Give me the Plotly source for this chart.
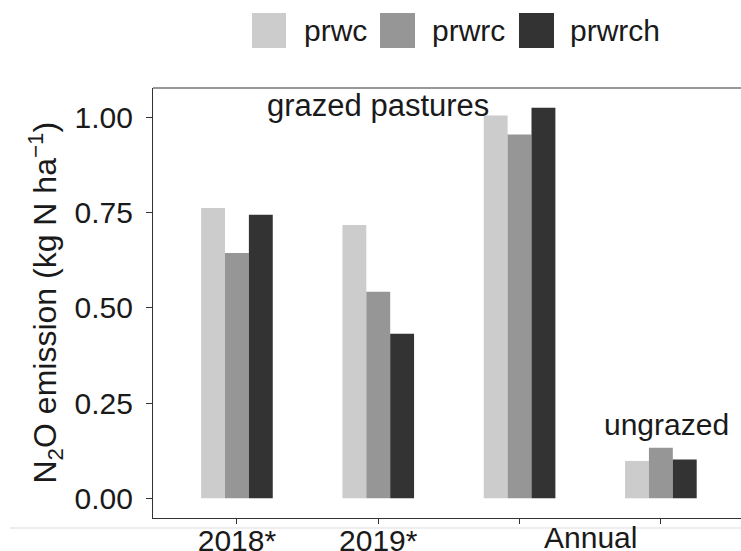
import plotly.graph_objects as go

# ---- data ----
groups = ["2018*", "2019*", "Annual grazed", "Annual ungrazed"]
tick_labels = ["2018*", "2019*", "", ""]
series_names = ["prwc", "prwrc", "prwrch"]
prwc = [0.762, 0.717, 1.005, 0.098]
prwrc = [0.644, 0.542, 0.955, 0.133]
prwrch = [0.744, 0.432, 1.025, 0.102]
colors = ["#cccccc", "#969696", "#333333"]

W, H = 760, 551
ML, MR, MT, MB = 153, 19, 88, 33
PW, PH = W - ML - MR, H - MT - MB


def px(x):
    return (x - ML) / PW


def py(y):
    return (H - MB - y) / PH


FONT = "Liberation Sans, Arial, sans-serif"

fig = go.Figure()
for name, vals, col in zip(series_names, [prwc, prwrc, prwrch], colors):
    fig.add_trace(go.Bar(x=groups, y=vals, name=name, marker_color=col,
                         marker_line_width=0, showlegend=False))

fig.update_layout(
    width=W, height=H, autosize=False,
    margin=dict(l=ML, r=MR, t=MT, b=MB, pad=0, autoexpand=False),
    paper_bgcolor="white", plot_bgcolor="white",
    barmode="group", bargap=0.493, bargroupgap=0,
    font=dict(family=FONT, size=30, color="#1a1a1a"),
    xaxis=dict(type="category", range=[-0.594, 3.567], tickmode="array",
               tickvals=groups, ticktext=tick_labels, automargin=False,
               showline=True, linecolor="#333333", linewidth=1.2, mirror=False,
               ticks="outside", ticklen=5, tickcolor="#333333", tickwidth=1.2,
               ticklabelstandoff=-9,
               showgrid=False, zeroline=False,
               tickfont=dict(family=FONT, size=30, color="#1a1a1a")),
    yaxis=dict(range=[-0.0517, 1.0769], tickvals=[0, 0.25, 0.5, 0.75, 1.0],
               ticktext=["0.00", "0.25", "0.50", "0.75", "1.00"], automargin=False,
               showline=True, linecolor="#333333", linewidth=1.2, mirror=False,
               ticks="outside", ticklen=6, tickcolor="#333333", tickwidth=1.2,
               ticklabelstandoff=7,
               showgrid=False, zeroline=False,
               tickfont=dict(family=FONT, size=30, color="#1a1a1a")),
)

annots = [
    dict(x=1, y=1.03, xref="x", yref="y", text="grazed pastures", showarrow=False,
         xanchor="center", yanchor="middle", font=dict(size=31, color="#1a1a1a")),
    dict(x=3.04, y=0.193, xref="x", yref="y", text="ungrazed", showarrow=False,
         xanchor="center", yanchor="middle", font=dict(size=30, color="#1a1a1a")),
    dict(x=2.5, y=py(519), xref="x", yref="paper", text="Annual", showarrow=False,
         xanchor="center", yanchor="top", font=dict(size=30, color="#1a1a1a")),
    dict(x=px(45), y=py(302.5), xref="paper", yref="paper", textangle=-90,
         text="N<sub>2</sub>O emission (kg N ha<sup>\u22121</sup>)", showarrow=False,
         xanchor="center", yanchor="middle", font=dict(size=32, color="#1a1a1a")),
]

shapes = []
leg_sq = [(252, 286), (380, 415), (519, 554)]
leg_tx = [302, 430, 568]
for (x0, x1), tx, name, col in zip(leg_sq, leg_tx, series_names, colors):
    shapes.append(dict(type="rect", xref="paper", yref="paper",
                       x0=px(x0), x1=px(x1), y0=py(48), y1=py(13),
                       fillcolor=col, line=dict(width=0)))
    annots.append(dict(x=px(tx), y=py(30.5), xref="paper", yref="paper", text=name,
                       showarrow=False, xanchor="left", yanchor="middle",
                       font=dict(size=30, color="#1a1a1a")))

# panel top border and faint line below the axis
shapes.append(dict(type="line", xref="paper", yref="paper", x0=0, x1=1.0,
                   y0=1, y1=1, line=dict(color="#333333", width=1.2)))
shapes.append(dict(type="line", xref="paper", yref="paper", x0=px(10), x1=1.0,
                   y0=py(528), y1=py(528), line=dict(color="#dddddd", width=1)))

fig.update_layout(annotations=annots, shapes=shapes)
fig.write_html(
    "out.html",
    config={"displayModeBar": False},
    post_script="document.body.style.margin='0';"
                "document.documentElement.style.overflow='hidden';"
                "document.body.style.overflow='hidden';",
)
